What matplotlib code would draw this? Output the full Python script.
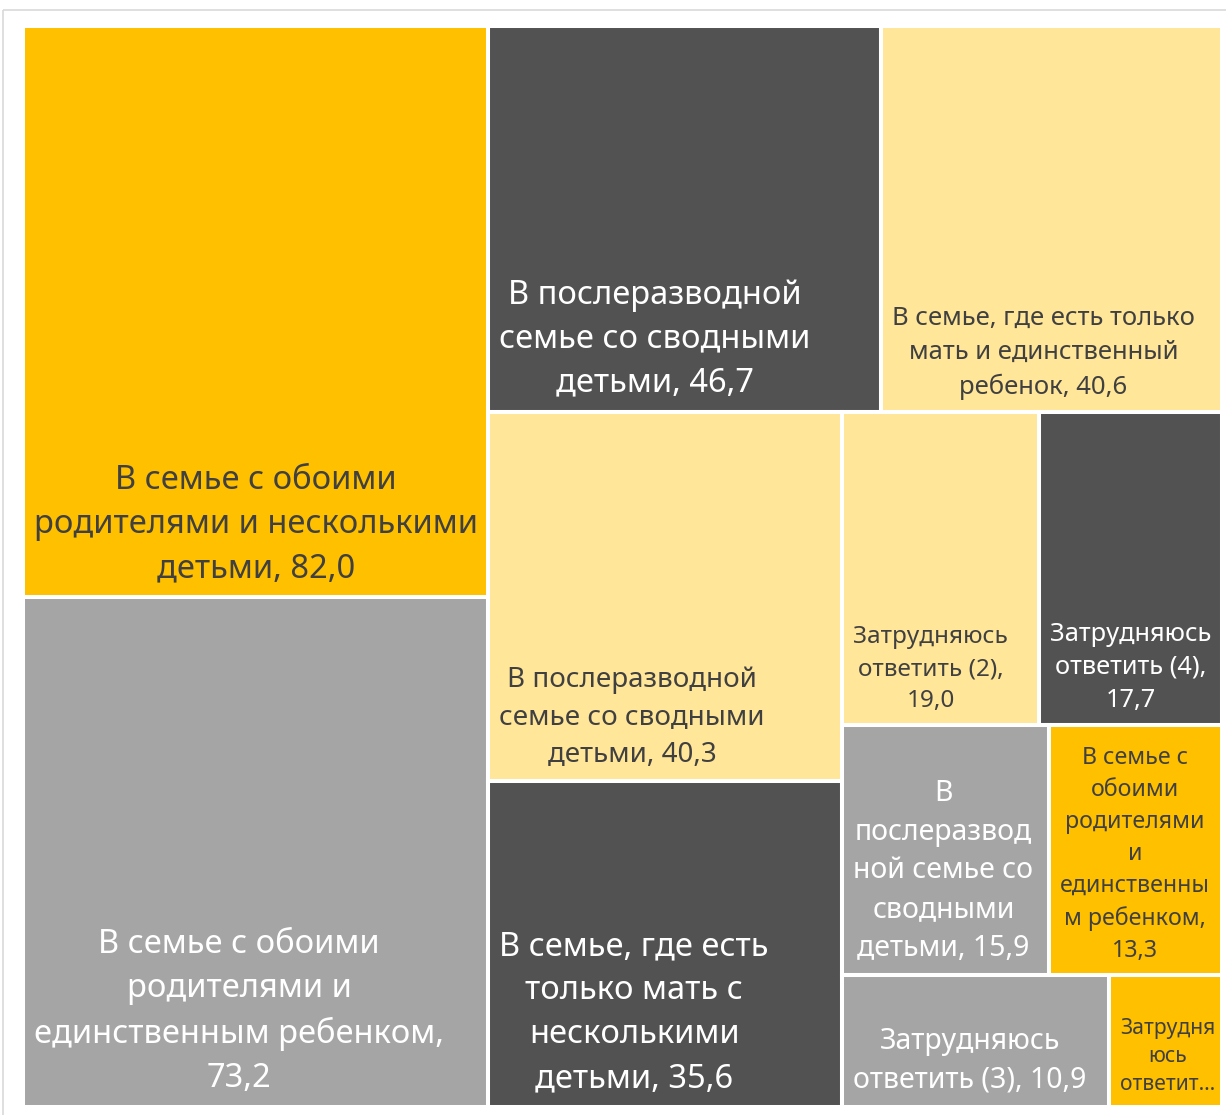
import matplotlib
matplotlib.use("Agg")
import matplotlib.pyplot as plt
from matplotlib.patches import Rectangle

plt.rcParams['font.family'] = ['Noto Sans', 'DejaVu Sans']

# данные
labels = [
    "В семье с обоими\nродителями и несколькими\nдетьми, 82,0",
    "В семье с обоими\nродителями и\nединственным ребенком,\n73,2",
    "В послеразводной\nсемье со сводными\nдетьми, 46,7",
    "В семье, где есть только\nмать и единственный\nребенок, 40,6",
    "В послеразводной\nсемье со сводными\nдетьми, 40,3",
    "В семье, где есть\nтолько мать с\nнесколькими\nдетьми, 35,6",
    "Затрудняюсь\nответить (2),\n19,0",
    "Затрудняюсь\nответить (4),\n17,7",
    "В\nпослеразвод\nной семье со\nсводными\nдетьми, 15,9",
    "В семье с\nобоими\nродителями\nи\nединственны\nм ребенком,\n13,3",
    "Затрудняюсь\nответить (3), 10,9",
    "Затрудня\nюсь\nответит…",
]
values = [82.0, 73.2, 46.7, 40.6, 40.3, 35.6, 19.0, 17.7, 15.9, 13.3, 10.9, 4.6]
groups = ['o', 'g', 'd', 'l', 'l', 'd', 'l', 'd', 'g', 'o', 'g', 'o']

fill = {'o': '#FFC000', 'g': '#A5A5A5', 'd': '#525252', 'l': '#FFE699'}
txt = {'o': '#404040', 'g': 'white', 'd': 'white', 'l': '#404040'}
fsize = [23.5, 23.5, 23.5, 18.5, 20, 23.5, 17.5, 18.3, 20.5, 16.7, 20.5, 15.2]


def worst(row, side):
    s = sum(row)
    return max(max(side * side * r / (s * s), s * s / (side * side * r)) for r in row)


def squarify(vals, x, y, dx, dy):
    k = dx * dy / sum(vals)
    areas = [v * k for v in vals]
    rects = []
    i = 0
    while i < len(areas):
        side = min(dx, dy)
        row = [areas[i]]
        i += 1
        while i < len(areas) and worst(row + [areas[i]], side) <= worst(row, side):
            row.append(areas[i])
            i += 1
        s = sum(row)
        if dx >= dy:
            w = s / dy
            yy = y
            for a in row:
                h = a / w
                rects.append((x, yy, w, h))
                yy += h
            x += w
            dx -= w
        else:
            h = s / dx
            xx = x
            for a in row:
                w = a / h
                rects.append((xx, y, w, h))
                xx += w
            y += h
            dy -= h
    return rects


fig = plt.figure(figsize=(12.26, 11.15), dpi=100)
ax = fig.add_axes([0, 0, 1, 1])
ax.set_xlim(0, 1226)
ax.set_ylim(1115, 0)
ax.axis('off')

# рамка области диаграммы
ax.add_patch(Rectangle((3, 10), 1260, 1150, fill=False, edgecolor='#D9D9D9', linewidth=1.2))

rects = squarify(values, 23, 26, 1199, 1081)
for (x, y, w, h), lab, g, fs in zip(rects, labels, groups, fsize):
    ax.add_patch(Rectangle((x, y), w, h, facecolor=fill[g], edgecolor='white', linewidth=2.9))
    # подпись: блок прижат к левому краю, строки по центру блока
    ax.text(x + 11, y + h - 12, lab, ha='left', va='bottom', multialignment='center',
            fontsize=fs, color=txt[g], linespacing=1.44)

fig.savefig('out.png', dpi=100)
